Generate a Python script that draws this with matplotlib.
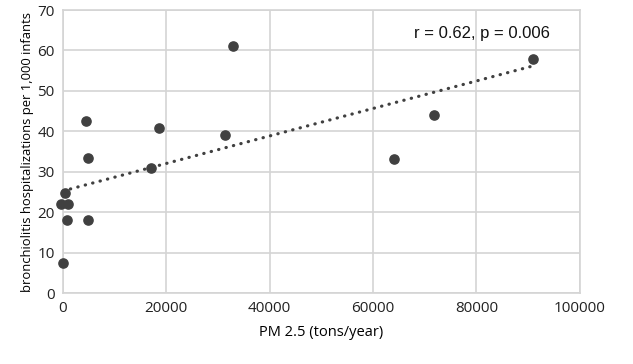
import numpy as np
import matplotlib
matplotlib.use("Agg")
import matplotlib.pyplot as plt

# PM 2.5 emissions (tons/year) vs bronchiolitis hospitalizations per 1,000 infants
pm25 = [0, -300, 1000, 300, 700, 4400, 4900, 4900, 17000, 18500, 31400, 32900, 64000, 71700, 91000]
hosp = [7.5, 22, 22, 24.8, 18, 42.5, 33.5, 18, 31, 40.7, 39, 61, 33.2, 44, 58]
x_ticks = [0, 20000, 40000, 60000, 80000, 100000]
y_ticks = [0, 10, 20, 30, 40, 50, 60, 70]
stat_label = "r = 0.62, p = 0.006"

fig = plt.figure(figsize=(6.33, 3.64), dpi=100)
ax = fig.add_axes([0.0995, 0.195, 0.8165, 0.7775])

grid_col = "#d4d4d4"
ax.set_xlim(0, 100000)
ax.set_ylim(0, 70)
ax.set_xticks(x_ticks)
ax.set_yticks(y_ticks)
ax.grid(True, color=grid_col, linewidth=1.2)
ax.set_axisbelow(True)
for s in ax.spines.values():
    s.set_color(grid_col)
    s.set_linewidth(1.2)
ax.tick_params(length=0, labelsize=11, colors="#222222", pad=6)
for lab in ax.get_xticklabels() + ax.get_yticklabels():
    lab.set_family("Open Sans")

# linear trend line from the data
coef = np.polyfit(pm25, hosp, 1)
xs = np.array([0, max(pm25)])
ax.plot(xs, np.polyval(coef, xs), color="#404040", linestyle=(0, (0.1, 2.3)),
        linewidth=2.3, dash_capstyle="round", zorder=2)

ax.scatter(pm25, hosp, s=44, color="#404040", zorder=3, clip_on=False)

ax.text(68000, 64.2, stat_label, family="Liberation Sans", fontsize=12, color="#111111",
        va="center")
ax.set_xlabel("PM 2.5 (tons/year)", family="Open Sans", fontsize=10.5, labelpad=6)
ax.set_ylabel("bronchiolitis hospitalizations per 1,000 infants", family="Open Sans",
              fontsize=9.4, labelpad=2)

fig.savefig("out.png", dpi=100)
